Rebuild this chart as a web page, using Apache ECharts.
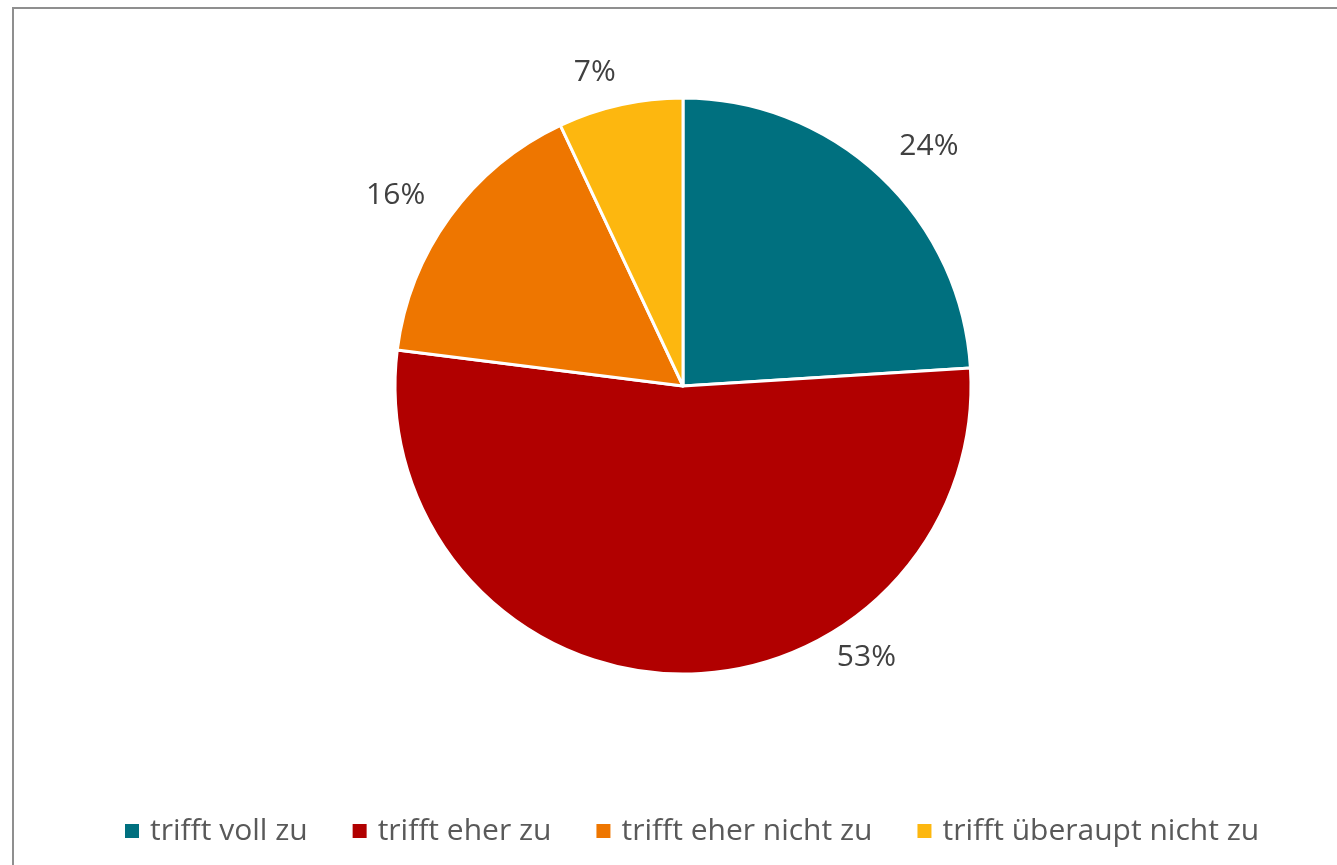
<!DOCTYPE html>
<html>
<head>
<meta charset="utf-8">
<script src="https://cdn.jsdelivr.net/npm/echarts@6/dist/echarts.min.js"></script>
<style>
	html,body{margin:0;padding:0;background:#fff;overflow:hidden;}
	#frame{position:absolute;left:12px;top:7px;width:1400px;height:900px;border:2px solid #8f8f8f;box-sizing:border-box;}
	#chart{position:absolute;left:0;top:0;width:1337px;height:865px;}
</style>
</head>
<body>
<div id="frame"></div>
<div id="chart"></div>
<script>
	// 数据
	var categories = ['trifft voll zu', 'trifft eher zu', 'trifft eher nicht zu', 'trifft überaupt nicht zu'];
	var shares = [24, 53, 16, 7];
	var colors = ['#00707f', '#b10000', '#ee7600', '#fdb70f'];

	// 饼图位置(px)
	var cx = 683, cy = 386, r = 288;
	// 标签位置: 角度(从正上方顺时针) + 距圆心距离
	var labelAngle = [45.8, 146, 303.6, 344.3];
	var labelDist = [343, 328, 345, 326];

	var pieData = [];
	for (var i=0;i<categories.length;++i) {
		pieData.push({name:categories[i], value:shares[i], itemStyle:{color:colors[i]}});
	}

	var chart = echarts.init(document.getElementById('chart'), null, {renderer:'canvas'});
	var option = {
		animation: false,
		backgroundColor: 'transparent',
		legend: {
			left: 120,
			top: 811,
			itemWidth: 14,
			itemHeight: 14,
			itemGap: 45,
			icon: 'rect',
			itemStyle: {borderWidth:0},
			textStyle: {fontFamily:'Open Sans', fontSize:30, color:'#595959', padding:[0,0,0,6]},
			data: categories
		},
		series: [{
			type: 'pie',
			center: [cx, cy],
			radius: [0, r],
			startAngle: 90,
			clockwise: true,
			itemStyle: {borderColor:'#fff', borderWidth:3},
			label: {
				show: true,
				position: 'outside',
				formatter: '{d}%',
				fontFamily: 'Open Sans',
				fontSize: 30,
				color: '#404040'
			},
			labelLine: {show:false},
			labelLayout: function(p) {
				var a = labelAngle[p.dataIndex]*Math.PI/180;
				var d = labelDist[p.dataIndex];
				return {x: cx + d*Math.sin(a), y: cy - d*Math.cos(a), align:'center', verticalAlign:'middle'};
			},
			emphasis: {disabled:true},
			data: pieData
		}]
	};
	chart.setOption(option);
</script>
</body>
</html>
